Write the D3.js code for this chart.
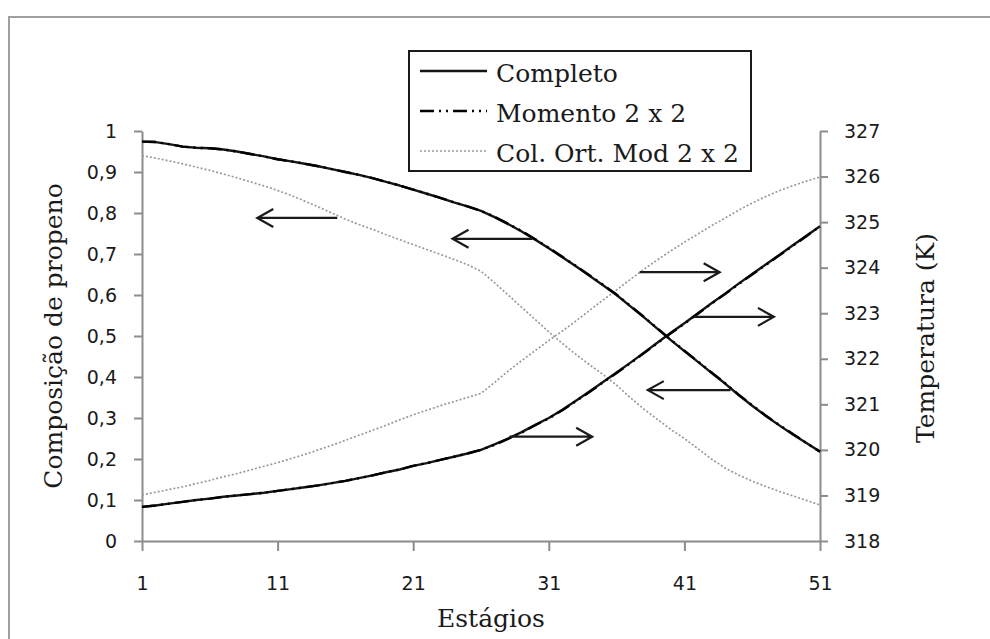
<!DOCTYPE html>
<html>
<head>
<meta charset="utf-8">
<script src="https://d3js.org/d3.v7.min.js"></script>
<style>
  body { margin: 0; background: #fff; }
  .tick text { font-family: "DejaVu Sans", sans-serif; font-size: 19px; fill: #1a1a1a; }
  .title { font-family: "DejaVu Serif", serif; font-size: 25px; fill: #1a1a1a; }
</style>
</head>
<body>
<svg id="vis"></svg>
<script>
  // Stages (x categories)
  var stages = [1,2,3,4,5,6,7,8,9,10,11,12,13,14,15,16,17,18,19,20,21,22,23,24,25,26,
    27,28,29,30,31,32,33,34,35,36,37,38,39,40,41,42,43,44,45,46,47,48,49,50,51]

  // composition of propene (left axis)
  var completoComp = [0.974,0.973,0.968,0.962,0.959,0.958,0.955,0.950,0.944,0.938,
    0.931,0.926,0.920,0.914,0.907,0.900,0.893,0.885,0.876,0.867,
    0.857,0.847,0.837,0.826,0.816,0.805,0.790,0.773,0.755,0.735,
    0.714,0.692,0.670,0.647,0.624,0.600,0.573,0.546,0.518,0.490,
    0.463,0.437,0.410,0.384,0.356,0.330,0.305,0.282,0.260,0.239,0.218]
  var momentoComp = [0.974,0.973,0.968,0.962,0.959,0.958,0.955,0.950,0.944,0.938,
    0.931,0.926,0.920,0.914,0.907,0.900,0.893,0.885,0.876,0.867,
    0.857,0.847,0.837,0.826,0.816,0.805,0.791,0.774,0.756,0.736,
    0.715,0.693,0.671,0.648,0.625,0.601,0.574,0.547,0.519,0.491,
    0.464,0.438,0.411,0.385,0.357,0.331,0.306,0.283,0.261,0.239,0.218]
  var colOrtComp = [0.940,0.934,0.927,0.920,0.912,0.904,0.895,0.886,0.876,0.866,
    0.855,0.843,0.829,0.815,0.800,0.785,0.772,0.760,0.747,0.735,
    0.723,0.711,0.699,0.687,0.674,0.658,0.630,0.600,0.570,0.540,
    0.510,0.482,0.455,0.430,0.406,0.380,0.350,0.322,0.297,0.272,
    0.250,0.225,0.200,0.178,0.161,0.146,0.133,0.121,0.110,0.099,0.088]

  // temperature (right axis)
  var completoTemp = [318.75,318.78,318.82,318.86,318.90,318.93,318.97,319.00,319.03,319.06,
    319.10,319.14,319.18,319.22,319.27,319.32,319.38,319.44,319.51,319.57,
    319.65,319.71,319.78,319.85,319.92,320.00,320.12,320.25,320.39,320.55,
    320.70,320.88,321.08,321.28,321.49,321.70,321.91,322.13,322.35,322.57,
    322.78,323.00,323.22,323.43,323.65,323.86,324.07,324.28,324.49,324.70,324.91]
  var momentoTemp = [318.75,318.78,318.82,318.86,318.90,318.93,318.97,319.00,319.03,319.06,
    319.10,319.14,319.18,319.22,319.27,319.32,319.38,319.44,319.51,319.57,
    319.65,319.71,319.78,319.85,319.92,320.00,320.11,320.24,320.38,320.54,
    320.69,320.87,321.07,321.27,321.48,321.69,321.90,322.12,322.34,322.56,
    322.77,322.99,323.21,323.42,323.64,323.85,324.06,324.27,324.48,324.69,324.91]
  var colOrtTemp = [319.01,319.07,319.13,319.19,319.26,319.33,319.41,319.48,319.56,319.64,
    319.72,319.81,319.90,320.00,320.10,320.21,320.32,320.43,320.54,320.66,
    320.77,320.87,320.97,321.06,321.15,321.24,321.48,321.73,321.96,322.18,
    322.40,322.61,322.83,323.06,323.29,323.51,323.74,323.96,324.17,324.37,
    324.56,324.74,324.92,325.09,325.26,325.42,325.56,325.69,325.80,325.90,325.99]

  // ticks
  var xTicks = [1, 11, 21, 31, 41, 51]
  var leftTicks = [0, 0.1, 0.2, 0.3, 0.4, 0.5, 0.6, 0.7, 0.8, 0.9, 1]
  var leftTickLabels = ['0','0,1','0,2','0,3','0,4','0,5','0,6','0,7','0,8','0,9','1']
  var rightTicks = [318, 319, 320, 321, 322, 323, 324, 325, 326, 327]

  var legendNames = ['Completo', 'Momento 2 x 2', 'Col. Ort. Mod 2 x 2']

  // arrows: which axis, start stage, end stage, level
  var arrowAxis  = ['left', 'left', 'right', 'right', 'left', 'right']
  var arrowFrom  = [15.4, 29.8, 37.7, 41.7, 44.4, 28.1]
  var arrowTo    = [9.5, 23.9, 43.6, 47.6, 38.3, 34.2]
  var arrowLevel = [0.788, 0.737, 323.90, 322.92, 0.368, 320.29]

  var svg = d3.select('#vis')
    .attr('width', 990)
    .attr('height', 639)

  // outer chart frame (only left and top edges show)
  svg.append('rect')
    .attr('x', 9).attr('y', 17)
    .attr('width', 1000).attr('height', 700)
    .attr('fill', 'none')
    .attr('stroke', '#a0a0a0')
    .attr('stroke-width', 2)

  // Scales
  var x = d3.scaleLinear().domain([1, 51]).range([142, 820])
  var yL = d3.scaleLinear().domain([0, 1]).range([541, 131])
  var yR = d3.scaleLinear().domain([318, 327]).range([541, 131])

  // Axes
  var xAxis = d3.axisBottom(x).tickValues(xTicks).tickSize(10).tickSizeOuter(0).tickPadding(26)
    .tickFormat(d3.format('d'))
  var leftAxis = d3.axisLeft(yL).tickValues(leftTicks).tickSize(8).tickSizeOuter(0).tickPadding(17)
    .tickFormat(function (d, i) { return leftTickLabels[i] })
  var rightAxis = d3.axisRight(yR).tickValues(rightTicks).tickSize(8).tickSizeOuter(0).tickPadding(16)
    .tickFormat(d3.format('d'))

  function styleAxis(g) {
    g.select('.domain').attr('stroke', '#8c8c8c').attr('stroke-width', 2)
    g.selectAll('.tick line').attr('stroke', '#8c8c8c').attr('stroke-width', 2)
    g.attr('font-family', null).attr('font-size', null)
  }

  svg.append('g').attr('transform', 'translate(0,541)').call(xAxis).call(styleAxis)
  svg.append('g').attr('transform', 'translate(142,0)').call(leftAxis).call(styleAxis)
  svg.append('g').attr('transform', 'translate(820,0)').call(rightAxis).call(styleAxis)

  // Lines
  function lineFor(scale) {
    return d3.line()
      .x(function (d, i) { return x(stages[i]) })
      .y(function (d) { return scale(d) })
  }

  var lineStyles = [
    { stroke: '#151515', width: 2.4, dash: null },
    { stroke: '#000', width: 2.4, dash: '14,5,2,5,2,5' },
    { stroke: '#9a9a9a', width: 1.7, dash: '2,2' }
  ]

  var series = [
    [colOrtComp, yL, 2], [colOrtTemp, yR, 2],
    [completoComp, yL, 0], [completoTemp, yR, 0],
    [momentoComp, yL, 1], [momentoTemp, yR, 1]
  ]

  series.forEach(function (s) {
    var st = lineStyles[s[2]]
    svg.append('path')
      .datum(s[0])
      .attr('d', lineFor(s[1]))
      .attr('fill', 'none')
      .attr('stroke', st.stroke)
      .attr('stroke-width', st.width)
      .attr('stroke-dasharray', st.dash)
      .attr('stroke-linejoin', 'round')
  })

  // Arrows
  arrowAxis.forEach(function (a, i) {
    var sc = a == 'left' ? yL : yR
    var x0 = x(arrowFrom[i]), x1 = x(arrowTo[i]), yy = sc(arrowLevel[i])
    var dir = x1 < x0 ? 1 : -1
    svg.append('path')
      .attr('d', 'M' + x0 + ',' + yy + 'H' + x1 +
        'M' + (x1 + dir * 16) + ',' + (yy - 9) + 'L' + x1 + ',' + yy + 'L' + (x1 + dir * 16) + ',' + (yy + 9))
      .attr('fill', 'none')
      .attr('stroke', '#1a1a1a')
      .attr('stroke-width', 2.2)
  })

  // Axis titles
  svg.append('text').attr('class', 'title')
    .attr('x', 491).attr('y', 627)
    .attr('text-anchor', 'middle')
    .text('Estágios')

  svg.append('text').attr('class', 'title')
    .attr('transform', 'translate(62,336) rotate(-90)')
    .attr('text-anchor', 'middle')
    .text('Composição de propeno')

  svg.append('text').attr('class', 'title')
    .attr('transform', 'translate(934,338) rotate(-90)')
    .attr('text-anchor', 'middle')
    .text('Temperatura (K)')

  // Legend
  var legend = svg.append('g')
  legend.append('rect')
    .attr('x', 409).attr('y', 51)
    .attr('width', 342).attr('height', 120)
    .attr('fill', '#fff')
    .attr('stroke', '#1a1a1a')
    .attr('stroke-width', 2)

  legendNames.forEach(function (name, i) {
    var st = lineStyles[i]
    var cy = 71 + i * 40
    legend.append('line')
      .attr('x1', 420).attr('x2', 487)
      .attr('y1', cy).attr('y2', cy)
      .attr('stroke', st.stroke)
      .attr('stroke-width', st.width)
      .attr('stroke-dasharray', st.dash)
    legend.append('text').attr('class', 'title')
      .attr('x', 496).attr('y', cy + 11)
      .text(name)
  })
</script>
</body>
</html>
